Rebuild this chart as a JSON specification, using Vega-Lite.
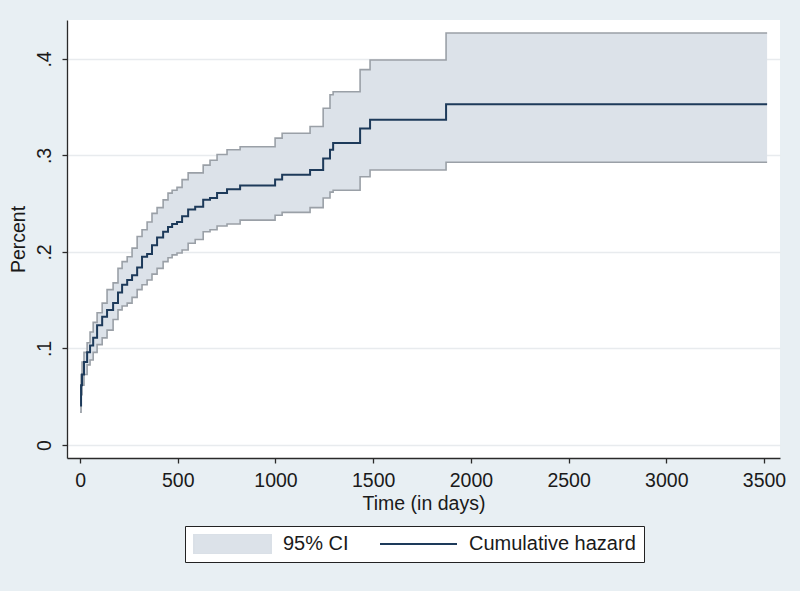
{
  "$schema": "https://vega.github.io/schema/vega-lite/v6.json",
  "autosize": {"type": "none"},
  "padding": {"left": 67, "top": 20, "right": 20, "bottom": 133},
  "width": 713,
  "height": 438,
  "background": "#e8eff3",
  "view": {"fill": "white", "stroke": null},
  "config": {
    "font": "Liberation Sans",
    "axis": {
      "labelFont": "Liberation Sans",
      "titleFont": "Liberation Sans",
      "labelFontSize": 19.5,
      "titleFontSize": 19.5,
      "titleFontWeight": "normal",
      "labelColor": "#1a1a1a",
      "titleColor": "#1a1a1a",
      "domainColor": "#2a2a2a",
      "tickColor": "#2a2a2a",
      "domainWidth": 1.3,
      "tickWidth": 1.3,
      "tickSize": 5
    },
    "legend": {
      "labelFont": "Liberation Sans",
      "labelFontSize": 20,
      "labelColor": "#1a1a1a"
    }
  },
  "data": {
    "values": [
      {"t": 0, "h": 0.041, "hi": 0.047, "lo": 0.034},
      {"t": 5, "h": 0.062, "hi": 0.073, "lo": 0.052},
      {"t": 10, "h": 0.073, "hi": 0.086, "lo": 0.062},
      {"t": 20, "h": 0.086, "hi": 0.096, "lo": 0.073},
      {"t": 36, "h": 0.096, "hi": 0.106, "lo": 0.083},
      {"t": 51, "h": 0.103, "hi": 0.117, "lo": 0.088},
      {"t": 67, "h": 0.111, "hi": 0.127, "lo": 0.096},
      {"t": 87, "h": 0.124, "hi": 0.137, "lo": 0.104},
      {"t": 113, "h": 0.133, "hi": 0.147, "lo": 0.111},
      {"t": 138, "h": 0.140, "hi": 0.161, "lo": 0.119},
      {"t": 169, "h": 0.147, "hi": 0.168, "lo": 0.130},
      {"t": 194, "h": 0.158, "hi": 0.183, "lo": 0.140},
      {"t": 215, "h": 0.166, "hi": 0.190, "lo": 0.144},
      {"t": 241, "h": 0.171, "hi": 0.195, "lo": 0.147},
      {"t": 266, "h": 0.176, "hi": 0.204, "lo": 0.153},
      {"t": 292, "h": 0.184, "hi": 0.216, "lo": 0.161},
      {"t": 317, "h": 0.195, "hi": 0.223, "lo": 0.166},
      {"t": 343, "h": 0.198, "hi": 0.231, "lo": 0.171},
      {"t": 368, "h": 0.207, "hi": 0.240, "lo": 0.177},
      {"t": 394, "h": 0.215, "hi": 0.246, "lo": 0.183},
      {"t": 425, "h": 0.221, "hi": 0.254, "lo": 0.190},
      {"t": 450, "h": 0.226, "hi": 0.261, "lo": 0.194},
      {"t": 471, "h": 0.229, "hi": 0.264, "lo": 0.197},
      {"t": 496, "h": 0.231, "hi": 0.267, "lo": 0.199},
      {"t": 522, "h": 0.237, "hi": 0.275, "lo": 0.202},
      {"t": 553, "h": 0.244, "hi": 0.282, "lo": 0.209},
      {"t": 589, "h": 0.247, "hi": 0.282, "lo": 0.213},
      {"t": 630, "h": 0.254, "hi": 0.290, "lo": 0.221},
      {"t": 665, "h": 0.256, "hi": 0.295, "lo": 0.223},
      {"t": 701, "h": 0.261, "hi": 0.301, "lo": 0.227},
      {"t": 752, "h": 0.265, "hi": 0.306, "lo": 0.229},
      {"t": 819, "h": 0.269, "hi": 0.309, "lo": 0.233},
      {"t": 998, "h": 0.275, "hi": 0.318, "lo": 0.238},
      {"t": 1034, "h": 0.280, "hi": 0.323, "lo": 0.241},
      {"t": 1177, "h": 0.285, "hi": 0.330, "lo": 0.246},
      {"t": 1244, "h": 0.297, "hi": 0.349, "lo": 0.256},
      {"t": 1279, "h": 0.306, "hi": 0.363, "lo": 0.262},
      {"t": 1295, "h": 0.313, "hi": 0.366, "lo": 0.264},
      {"t": 1433, "h": 0.328, "hi": 0.389, "lo": 0.278},
      {"t": 1484, "h": 0.337, "hi": 0.399, "lo": 0.285},
      {"t": 1873, "h": 0.353, "hi": 0.427, "lo": 0.293},
      {"t": 3516, "h": 0.353, "hi": 0.427, "lo": 0.293}
    ]
  },
  "encoding": {
    "x": {
      "field": "t",
      "type": "quantitative",
      "scale": {"domain": [-67, 3582], "nice": false, "zero": false},
      "axis": {
        "title": "Time (in days)",
        "values": [0, 500, 1000, 1500, 2000, 2500, 3000, 3500],
        "format": "d",
        "grid": false,
        "labelPadding": 8,
        "titlePadding": 5
      }
    }
  },
  "layer": [
    {
      "mark": {"type": "area", "interpolate": "step-after", "opacity": 1},
      "encoding": {
        "y": {
          "field": "lo",
          "type": "quantitative",
          "scale": {"domain": [-0.0135, 0.4404], "nice": false, "zero": false},
          "axis": {
            "title": "Percent",
            "values": [0, 0.1, 0.2, 0.3, 0.4],
            "labelExpr": "datum.value == 0 ? '0' : replace(format(datum.value, '.1f'), '0.', '.')",
            "labelAngle": -90,
            "labelPadding": 8,
            "titlePadding": 6,
            "grid": true,
            "gridColor": "#e8ebee",
            "gridWidth": 1.3
          }
        },
        "y2": {"field": "hi"},
        "color": {
          "datum": "95% CI",
          "type": "nominal",
          "scale": {"domain": ["95% CI", "Cumulative hazard"], "range": ["#dce2e9", "#1d3a5a"]},
          "legend": {
            "title": null,
            "orient": "none",
            "legendX": 118,
            "legendY": 506,
            "direction": "horizontal",
            "padding": 8,
            "fillColor": "white",
            "strokeColor": "#222222",
            "symbolSize": 5929,
            "clipHeight": 20,
            "labelOffset": 11,
            "labelLimit": 400,
            "columnPadding": 30,
            "symbolStrokeWidth": 2,
            "symbolType": {"expr": "datum.value === '95% CI' ? 'M-1,-0.26H1V0.26H-1Z' : 'M-1,0H1'"},
            "symbolStrokeColor": {"expr": "datum.value === '95% CI' ? '#dae0e7' : '#1d3a5a'"},
            "encode": {
              "legend": {"strokeWidth": {"value": 1.3}}
            }
          }
        }
      }
    },
    {
      "mark": {"type": "line", "interpolate": "step-after", "color": "#9aa0a7", "strokeWidth": 1.6},
      "encoding": {"y": {"field": "hi", "type": "quantitative"}}
    },
    {
      "mark": {"type": "line", "interpolate": "step-after", "color": "#9aa0a7", "strokeWidth": 1.6},
      "encoding": {"y": {"field": "lo", "type": "quantitative"}}
    },
    {
      "mark": {"type": "line", "interpolate": "step-after", "strokeWidth": 2, "color": "#1d3a5a"},
      "encoding": {"y": {"field": "h", "type": "quantitative"}}
    }
  ]
}
